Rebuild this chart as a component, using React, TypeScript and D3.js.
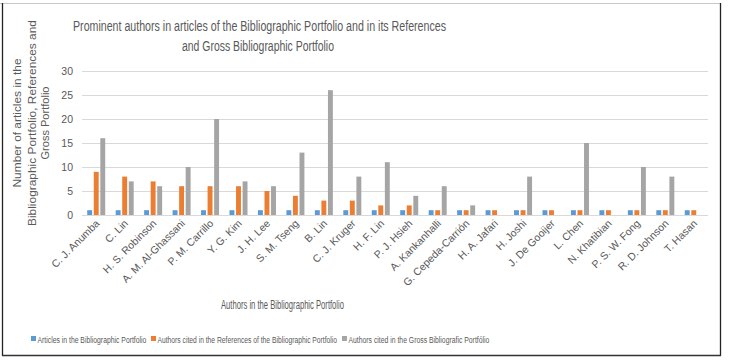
import { useEffect, useRef } from 'react';
import * as d3 from 'd3';

const authors = [
  'C. J. Anumba', 'C. Lin', 'H. S. Robinson', 'A. M. Al-Ghassani', 'P. M. Carrillo',
  'Y. G. Kim', 'J. H. Lee', 'S. M. Tseng', 'B. Lin', 'C. J. Kruger', 'H. F. Lin',
  'P. J. Hsieh', 'A. Kankanhalli', 'G. Cepeda-Carrión', 'H. A. Jafari', 'H. Joshi',
  'J. De Gooijer', 'L. Chen', 'N. Khatibian', 'P. S. W. Fong', 'R. D. Johnson', 'T. Hasan',
];

const articlesInPortfolio = [1, 1, 1, 1, 1, 1, 1, 1, 1, 1, 1, 1, 1, 1, 1, 1, 1, 1, 1, 1, 1, 1];
const citedInReferences = [9, 8, 7, 6, 6, 6, 5, 4, 3, 3, 2, 2, 1, 1, 1, 1, 1, 1, 1, 1, 1, 1];
const citedInGross = [16, 7, 6, 10, 20, 7, 6, 13, 26, 8, 11, 4, 6, 2, 0, 8, 0, 15, 0, 10, 8, 0];

const seriesNames = [
  'Articles in the Bibliographic Portfolio',
  'Authors cited in the References of the Bibliographic Portfolio',
  'Authors cited in the Gross Bibliografic Portfólio',
];
const seriesColors = ['#5B9BD5', '#ED7D31', '#A5A5A5'];
const yTicks = [0, 5, 10, 15, 20, 25, 30];

const FONT = '"Liberation Sans Narrow", "Liberation Sans", Arial, sans-serif';

export default function App() {
  const svgRef = useRef<SVGSVGElement>(null);

  useEffect(() => {
    if (!svgRef.current) return;
    const svg = d3.select(svgRef.current);
    svg.selectAll('*').remove();

    const W = 729, H = 363;
    const plot = { left: 82, right: 708, top: 71, bottom: 215 };

    // Frame
    svg.append('rect').attr('width', W).attr('height', H).attr('fill', '#fff');
    svg.append('line').attr('x1', 0).attr('x2', 721).attr('y1', 3.5).attr('y2', 3.5)
      .attr('stroke', '#c8c8c8');
    svg.append('line').attr('x1', 2.5).attr('x2', 2.5).attr('y1', 3).attr('y2', 356)
      .attr('stroke', '#222').attr('stroke-width', 1.3);
    svg.append('line').attr('x1', 720.5).attr('x2', 720.5).attr('y1', 3).attr('y2', 356)
      .attr('stroke', '#222').attr('stroke-width', 1.3);
    svg.append('line').attr('x1', 2).attr('x2', 721).attr('y1', 355.5).attr('y2', 355.5)
      .attr('stroke', '#333').attr('stroke-width', 1.3);

    // Title
    const title = svg.append('text')
      .attr('text-anchor', 'middle')
      .attr('font-family', FONT)
      .attr('font-size', 15.5)
      .attr('fill', '#595959');
    title.append('tspan').attr('x', 259.5).attr('y', 31)
      .attr('textLength', 373).attr('lengthAdjust', 'spacingAndGlyphs')
      .text('Prominent authors in articles of the Bibliographic Portfolio and in its References');
    title.append('tspan').attr('x', 258).attr('y', 51)
      .attr('textLength', 152).attr('lengthAdjust', 'spacingAndGlyphs')
      .text('and Gross Bibliographic Portfolio');

    const x = d3.scaleBand<string>().domain(authors).range([plot.left, plot.right]);
    const groupW = 18;
    const xs = d3.scaleBand<number>().domain([0, 1, 2]).range([0, groupW]).paddingInner(0.25);
    const y = d3.scaleLinear().domain([0, 30]).range([plot.bottom, plot.top]);

    // Grid
    svg.append('g').selectAll('line').data(yTicks).enter().append('line')
      .attr('x1', plot.left).attr('x2', plot.right)
      .attr('y1', d => Math.round(y(d)) + 0.5).attr('y2', d => Math.round(y(d)) + 0.5)
      .attr('stroke', '#d9d9d9').attr('stroke-width', 1);

    // Y ticks
    svg.append('g').selectAll('text').data(yTicks).enter().append('text')
      .attr('x', 73).attr('y', d => y(d) + 3.5)
      .attr('text-anchor', 'end')
      .attr('font-family', FONT).attr('font-size', 10.5).attr('fill', '#595959')
      .text(d => d);

    // Bars
    const series = [articlesInPortfolio, citedInReferences, citedInGross];
    series.forEach((vals, si) => {
      svg.append('g').selectAll('rect').data(vals).enter().append('rect')
        .attr('x', (_, i) => (x(authors[i]) as number) + (x.bandwidth() - groupW) / 2 + (xs(si) as number))
        .attr('width', xs.bandwidth())
        .attr('y', d => y(d))
        .attr('height', d => y(0) - y(d))
        .attr('fill', seriesColors[si]);
    });

    // X labels
    svg.append('g').selectAll('text').data(authors).enter().append('text')
      .attr('transform', d => `translate(${(x(d) as number) + x.bandwidth() / 2 + 4},${224}) rotate(-45)`)
      .attr('text-anchor', 'end')
      .attr('font-family', FONT).attr('font-size', 10.5).attr('fill', '#595959')
      .text(d => d);

    // Axis titles
    svg.append('text')
      .attr('x', 282.5).attr('y', 309)
      .attr('text-anchor', 'middle')
      .attr('textLength', 123).attr('lengthAdjust', 'spacingAndGlyphs')
      .attr('font-family', FONT).attr('font-size', 12).attr('fill', '#595959')
      .text('Authors in the Bibliographic Portfolio');

    const yTitle = svg.append('text')
      .attr('transform', 'translate(0,123) rotate(-90)')
      .attr('text-anchor', 'middle')
      .attr('font-family', FONT).attr('font-size', 11.5).attr('fill', '#595959');
    [
      { t: 'Number of articles in the', y: 21, len: 129 },
      { t: 'Bibliographic Portfolio, References and', y: 36, len: 206 },
      { t: 'Gross Portfolio', y: 49, len: 73 },
    ].forEach(l => {
      yTitle.append('tspan').attr('x', 0).attr('y', l.y)
        .attr('textLength', l.len).attr('lengthAdjust', 'spacingAndGlyphs').text(l.t);
    });

    // Legend: text squeezed horizontally with a scale so its box matches the drawn width
    const legendWidths = [109, 180, 141];
    const legend = svg.append('g').attr('font-family', FONT).attr('font-size', 9.5).attr('fill', '#595959');
    let lx = 31;
    seriesNames.forEach((name, i) => {
      legend.append('rect').attr('x', lx).attr('y', 336).attr('width', 5).attr('height', 5)
        .attr('fill', seriesColors[i]);
      const t = legend.append('text').attr('x', 0).attr('y', 0).text(name);
      const w = (t.node() as SVGTextElement).getComputedTextLength();
      t.attr('transform', `translate(${lx + 6.5},342.5) scale(${legendWidths[i] / w},1)`);
      lx += 6.5 + legendWidths[i] + 4.5;
    });
  }, []);

  return (
    <svg
      ref={svgRef}
      width={729}
      height={363}
      style={{ position: 'absolute', left: 0, top: 0, display: 'block' }}
    />
  );
}
